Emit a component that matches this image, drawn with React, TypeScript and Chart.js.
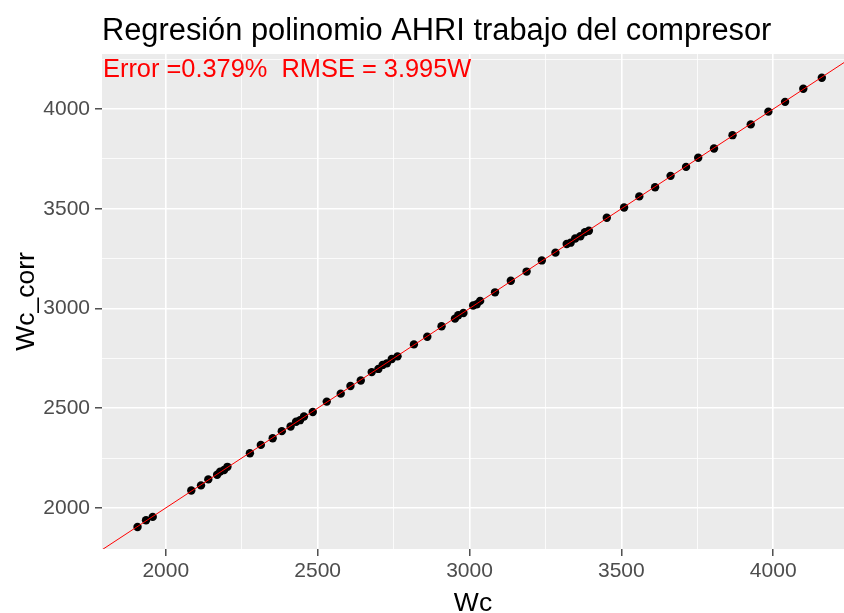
import React, { useEffect, useRef } from "react";
import { Chart, registerables } from "chart.js";

Chart.register(...registerables);

const titleText = "Regresión polinomio AHRI trabajo del compresor";
const annotationText = "Error =0.379%  RMSE = 3.995W";
const xAxisTitle = "Wc";
const yAxisTitle = "Wc_corr";

const wc = [
  1907, 1935, 1957, 2084, 2116, 2140, 2169, 2179, 2192, 2203, 2277, 2313, 2352,
  2382, 2411, 2429, 2442, 2455, 2484, 2530, 2576, 2608, 2642, 2678, 2700, 2714,
  2728, 2744, 2763, 2817, 2861, 2908, 2952, 2963, 2980, 3012, 3024, 3035, 3084,
  3136, 3188, 3238, 3283, 3320, 3333, 3348, 3365, 3380, 3393, 3452, 3509, 3559,
  3611, 3662, 3713, 3753, 3805, 3866, 3926, 3984, 4039, 4099, 4160,
];
const wcCorr = [
  1904, 1938, 1955, 2087, 2113, 2143, 2166, 2182, 2190, 2206, 2274, 2316, 2349,
  2385, 2408, 2432, 2440, 2458, 2481, 2533, 2573, 2611, 2639, 2681, 2697, 2717,
  2725, 2747, 2760, 2820, 2858, 2911, 2949, 2966, 2977, 3015, 3021, 3038, 3081,
  3139, 3185, 3241, 3280, 3323, 3330, 3351, 3362, 3383, 3390, 3455, 3506, 3562,
  3608, 3665, 3710, 3756, 3802, 3869, 3923, 3987, 4036, 4102, 4157,
];

const xRange = [1790, 4233];
const yRange = [1794, 4276];
const xTicks = [2000, 2250, 2500, 2750, 3000, 3250, 3500, 3750, 4000];
const yTicks = [2000, 2250, 2500, 2750, 3000, 3250, 3500, 3750, 4000, 4250];
// identity regression line y = x across the x range
const fitX = [xRange[0], xRange[1]];

const FONT = "'Liberation Sans', Arial, sans-serif";

const decorPlugin = {
  id: "decor",
  beforeDraw(chart: any) {
    const { ctx, chartArea } = chart;
    ctx.save();
    ctx.fillStyle = "#EBEBEB";
    ctx.fillRect(
      chartArea.left,
      chartArea.top,
      chartArea.right - chartArea.left,
      chartArea.bottom - chartArea.top
    );
    ctx.restore();
  },
  afterDraw(chart: any) {
    const { ctx, chartArea } = chart;
    ctx.save();
    ctx.textAlign = "left";
    ctx.textBaseline = "alphabetic";
    ctx.fillStyle = "#000000";
    ctx.font = `30.8px ${FONT}`;
    ctx.fillText(titleText, chartArea.left, 40);
    ctx.fillStyle = "#FF0000";
    ctx.font = `25.4px ${FONT}`;
    ctx.fillText(annotationText, chartArea.left + 1, 77);
    ctx.fillStyle = "#000000";
    ctx.font = `26.5px ${FONT}`;
    ctx.textAlign = "center";
    ctx.fillText(xAxisTitle, (chartArea.left + chartArea.right) / 2, 611);
    ctx.translate(33.5, (chartArea.top + chartArea.bottom) / 2);
    ctx.rotate(-Math.PI / 2);
    ctx.fillText(yAxisTitle, 0, 0);
    ctx.restore();
  },
};

export default function App() {
  const ref = useRef<HTMLCanvasElement>(null);
  useEffect(() => {
    if (!ref.current) return;
    const isMajor = (v: number) => v % 500 === 0;
    const gridCommon = {
      color: "#FFFFFF",
      lineWidth: (c: any) => (c.tick && isMajor(c.tick.value) ? 1.6 : 0.8),
      tickColor: (c: any) =>
        c.tick && isMajor(c.tick.value) ? "#333333" : "rgba(0,0,0,0)",
      tickWidth: 1.3,
      tickLength: 7,
      drawTicks: true,
    };
    const chart = new Chart(ref.current, {
      type: "scatter",
      data: {
        datasets: [
          {
            type: "line",
            data: fitX.map((x) => ({ x, y: x })),
            borderColor: "#FF0000",
            borderWidth: 1,
            pointRadius: 0,
            fill: false,
            order: 0,
          } as any,
          {
            type: "scatter",
            data: wc.map((x, i) => ({ x, y: wcCorr[i] })),
            backgroundColor: "#000000",
            borderWidth: 0,
            pointRadius: 4.2,
            order: 1,
          },
        ],
      },
      options: {
        animation: false,
        responsive: false,
        layout: {
          autoPadding: false,
          padding: { top: 54, right: 0, left: 0, bottom: 0 },
        },
        plugins: {
          legend: { display: false },
          tooltip: { enabled: false },
          title: { display: false },
        },
        scales: {
          x: {
            type: "linear",
            min: xRange[0],
            max: xRange[1],
            afterBuildTicks: (s: any) => {
              s.ticks = xTicks.map((value) => ({ value }));
            },
            afterFit: (s: any) => {
              s.height = 64;
            },
            border: { display: false },
            grid: gridCommon as any,
            ticks: {
              color: "#4D4D4D",
              font: { family: FONT, size: 21 },
              padding: 3,
              maxRotation: 0,
              autoSkip: false,
              callback: (v: any) => (isMajor(Number(v)) ? String(v) : ""),
            },
          },
          y: {
            type: "linear",
            min: yRange[0],
            max: yRange[1],
            afterBuildTicks: (s: any) => {
              s.ticks = yTicks.map((value) => ({ value }));
            },
            afterFit: (s: any) => {
              s.width = 102;
            },
            border: { display: false },
            grid: gridCommon as any,
            ticks: {
              color: "#4D4D4D",
              font: { family: FONT, size: 21 },
              padding: 5,
              autoSkip: false,
              callback: (v: any) => (isMajor(Number(v)) ? String(v) : ""),
            },
          },
        },
      },
      plugins: [decorPlugin],
    });
    return () => chart.destroy();
  }, []);
  return (
    <div style={{ position: "fixed", left: 0, top: 0, width: 844, height: 613, background: "#FFFFFF" }}>
      <canvas ref={ref} width={844} height={613} style={{ display: "block" }} />
    </div>
  );
}
